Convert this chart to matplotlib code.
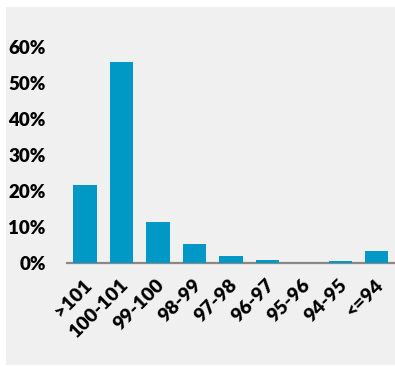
import matplotlib
matplotlib.use("Agg")
import matplotlib.pyplot as plt
from matplotlib.patches import Rectangle
from matplotlib.ticker import FuncFormatter
import matplotlib.transforms as mtransforms

categories = [">101", "100-101", "99-100", "98-99", "97-98", "96-97", "95-96", "94-95", "<=94"]
values = [0.216, 0.557, 0.113, 0.051, 0.018, 0.007, 0.0, 0.004, 0.032]

plt.rcParams['font.family'] = ['Lato', 'DejaVu Sans']

fig = plt.figure(figsize=(3.95, 3.67), dpi=100)
fig.patch.set_facecolor('white')
bg = Rectangle((6/395, 2/367), 1 - 6/395, (358)/367, transform=fig.transFigure,
               facecolor='#F0F0F0', edgecolor='none', zorder=-10)
fig.patches.append(bg)

ax = fig.add_axes([66.7/395, (367-262.5)/367, 1 - 66.7/395, (262.5-46.7)/367])
ax.set_facecolor('none')
x = list(range(len(categories)))
ax.bar(x, values, width=0.64, color='#0098C4', zorder=3)
ax.set_xlim(-0.5, len(categories) - 0.5)
ax.set_ylim(0, 0.6)
ax.set_yticks([0, 0.1, 0.2, 0.3, 0.4, 0.5, 0.6])
ax.yaxis.set_major_formatter(FuncFormatter(lambda v, p: f"{v*100:.0f}%"))
for s in ['top', 'right', 'left']:
    ax.spines[s].set_visible(False)
ax.spines['bottom'].set_color('#898989')
ax.spines['bottom'].set_linewidth(1.6)
ax.tick_params(axis='y', length=0, pad=15, labelsize=13.5)
ax.tick_params(axis='x', length=0, pad=14, labelsize=14)
for lbl in ax.get_yticklabels():
    lbl.set_fontweight('heavy')
ax.set_xticks(x)
ax.set_xticklabels(categories, rotation=45, ha='right', va='center',
                   rotation_mode='anchor', fontweight='heavy')
offset = mtransforms.ScaledTranslation(4/100, 0, fig.dpi_scale_trans)
for lbl in ax.get_xticklabels():
    lbl.set_transform(lbl.get_transform() + offset)

fig.savefig('out.png', dpi=100, facecolor='white')
